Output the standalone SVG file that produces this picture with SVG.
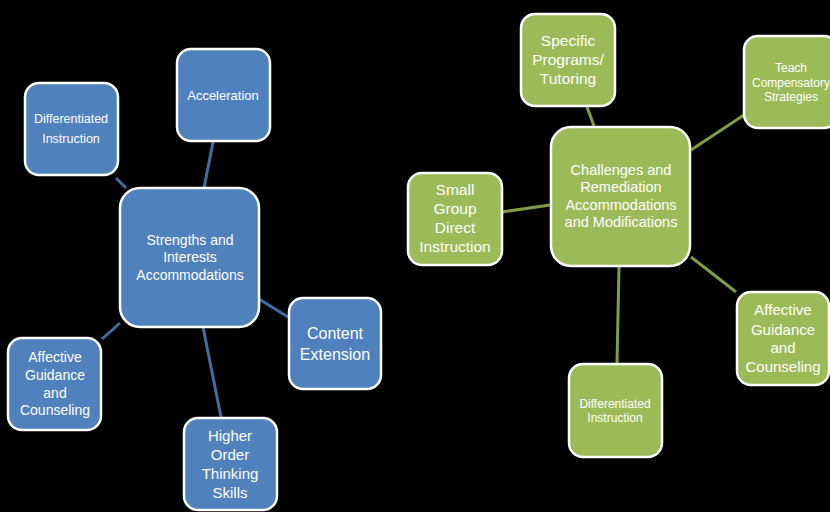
<svg xmlns="http://www.w3.org/2000/svg" width="830" height="512" viewBox="0 0 830 512">
<style>
.b{fill:#4F81BD;stroke:#FFFFFF;stroke-width:2.5}
.g{fill:#9BBB59;stroke:#FFFFFF;stroke-width:2.5}
.cb{stroke:#3E6EA4;stroke-width:3;fill:none}
.cg{stroke:#7E9E45;stroke-width:3;fill:none}
text{font-family:"Liberation Sans",Arial,sans-serif;fill:#FFFFFF;text-anchor:middle}
</style>
<rect x="0" y="0" width="830" height="512" fill="#000000"/>
<g id="connectors">
<line class="cb" x1="213" y1="142" x2="204" y2="188"/>
<line class="cb" x1="116" y1="178" x2="126" y2="188"/>
<line class="cb" x1="259" y1="299" x2="288" y2="317"/>
<line class="cb" x1="120" y1="323" x2="102" y2="339"/>
<line class="cb" x1="203" y1="327" x2="221" y2="417"/>
<line class="cg" x1="587" y1="107" x2="594" y2="126"/>
<line class="cg" x1="691" y1="150" x2="744" y2="115"/>
<line class="cg" x1="502" y1="212" x2="550" y2="205"/>
<line class="cg" x1="691" y1="257" x2="736" y2="292"/>
<line class="cg" x1="619" y1="267" x2="617" y2="363"/>
</g>
<g id="strengths">
<rect class="b" x="120" y="188" width="139" height="139" rx="20"/>
<text font-size="14" x="190" y="245">Strengths and</text>
<text font-size="14" x="190" y="262">Interests</text>
<text font-size="14" x="190" y="280">Accommodations</text>
</g>
<g id="acceleration">
<rect class="b" x="177" y="49" width="93" height="92" rx="14"/>
<text font-size="13" x="223" y="100">Acceleration</text>
</g>
<g id="diff-blue">
<rect class="b" x="25" y="83" width="93" height="92" rx="14"/>
<text font-size="12.5" x="71" y="123">Differentiated</text>
<text font-size="12.5" x="71" y="143">Instruction</text>
</g>
<g id="content">
<rect class="b" x="289" y="298" width="92" height="91" rx="14"/>
<text font-size="16" x="335" y="339">Content</text>
<text font-size="16" x="335" y="360">Extension</text>
</g>
<g id="affective-blue">
<rect class="b" x="8" y="338" width="93" height="92" rx="14"/>
<text font-size="14" x="55" y="362">Affective</text>
<text font-size="14" x="55" y="380">Guidance</text>
<text font-size="14" x="55" y="398">and</text>
<text font-size="14" x="55" y="415">Counseling</text>
</g>
<g id="higher">
<rect class="b" x="184" y="418" width="93" height="92" rx="14"/>
<text font-size="15" x="230" y="441">Higher</text>
<text font-size="15" x="230" y="460">Order</text>
<text font-size="15" x="230" y="479">Thinking</text>
<text font-size="15" x="230" y="498">Skills</text>
</g>
<g id="challenges">
<rect class="g" x="551" y="127" width="139" height="139" rx="20"/>
<text font-size="14.5" x="621" y="175">Challenges and</text>
<text font-size="14.5" x="621" y="192">Remediation</text>
<text font-size="14.5" x="621" y="210">Accommodations</text>
<text font-size="14.5" x="621" y="227">and Modifications</text>
</g>
<g id="specific">
<rect class="g" x="521" y="14" width="94" height="92" rx="14"/>
<text font-size="15.5" x="568" y="46">Specific</text>
<text font-size="15.5" x="568" y="65">Programs/</text>
<text font-size="15.5" x="568" y="84">Tutoring</text>
</g>
<g id="teach">
<rect class="g" x="744" y="36" width="94" height="92" rx="14"/>
<text font-size="12" x="791" y="72">Teach</text>
<text font-size="12" x="791" y="87">Compensatory</text>
<text font-size="12" x="791" y="101">Strategies</text>
</g>
<g id="small-group">
<rect class="g" x="408" y="173" width="94" height="92" rx="14"/>
<text font-size="15.5" x="455" y="195">Small</text>
<text font-size="15.5" x="455" y="214">Group</text>
<text font-size="15.5" x="455" y="233">Direct</text>
<text font-size="15.5" x="455" y="252">Instruction</text>
</g>
<g id="affective-green">
<rect class="g" x="737" y="292" width="92" height="93" rx="14"/>
<text font-size="15" x="783" y="315">Affective</text>
<text font-size="15" x="783" y="335">Guidance</text>
<text font-size="15" x="783" y="353">and</text>
<text font-size="15" x="783" y="372">Counseling</text>
</g>
<g id="diff-green">
<rect class="g" x="569" y="364" width="93" height="93" rx="14"/>
<text font-size="12" x="615" y="408">Differentiated</text>
<text font-size="12" x="615" y="422">Instruction</text>
</g>
</svg>
